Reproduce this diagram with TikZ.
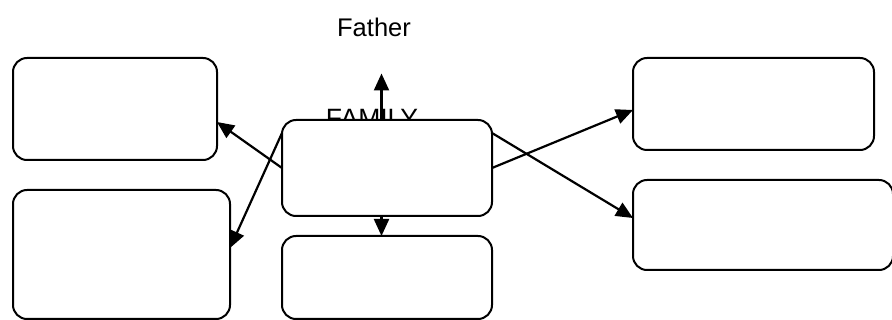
\documentclass[tikz,border=0pt]{standalone}
\usepackage{fontspec}
\setmainfont{Liberation Sans}
\usetikzlibrary{arrows.meta}
\begin{document}
\begin{tikzpicture}[x=1pt,y=-1pt,
  card/.style={draw=black, fill=white, line width=2pt, rounded corners=14pt,
    inner sep=0pt, outer sep=0pt},
  link/.style={line width=2.2pt, -{Triangle[length=17pt,width=15pt]}},
  caption/.style={anchor=base, inner sep=0pt}]
\useasboundingbox (0,0) rectangle (892,320);

% headings
\node[caption, font=\fontsize{25.5}{30}\selectfont] (father) at (374,37) {Father};
\node[caption, font=\fontsize{26.5}{32}\selectfont] (family) at (372,128) {FAMILY};

% boxes
\node[card, minimum width=204pt, minimum height=102pt] (tl) at (115,109) {};
\node[card, minimum width=217pt, minimum height=129pt] (bl) at (121.5,254.5) {};
\node[card, minimum width=210pt, minimum height=96pt]  (c)  at (387,168) {};
\node[card, minimum width=210pt, minimum height=83pt]  (bc) at (387,277.5) {};
\node[card, minimum width=241pt, minimum height=92pt]  (tr) at (753.5,104) {};
\node[card, minimum width=260pt, minimum height=90pt]  (rm) at (763,225) {};

\coordinate (up) at (381.5,73.5);

% connectors
\draw[link] ([xshift=-5.5pt]c.north) -- (up);
\draw[link] ([xshift=-5.5pt]c.south) -- ([xshift=-5.5pt]bc.north);
\draw[link] (c.west) -- ([yshift=-13pt]tl.east);
\draw[link] ([yshift=35pt]c.west) -- ([yshift=6.5pt]bl.east);
\draw[link] (c.east) -- ([yshift=-6pt]tr.west);
\draw[link] ([yshift=35pt]c.east) -- ([yshift=7pt]rm.west);
\end{tikzpicture}
\end{document}
